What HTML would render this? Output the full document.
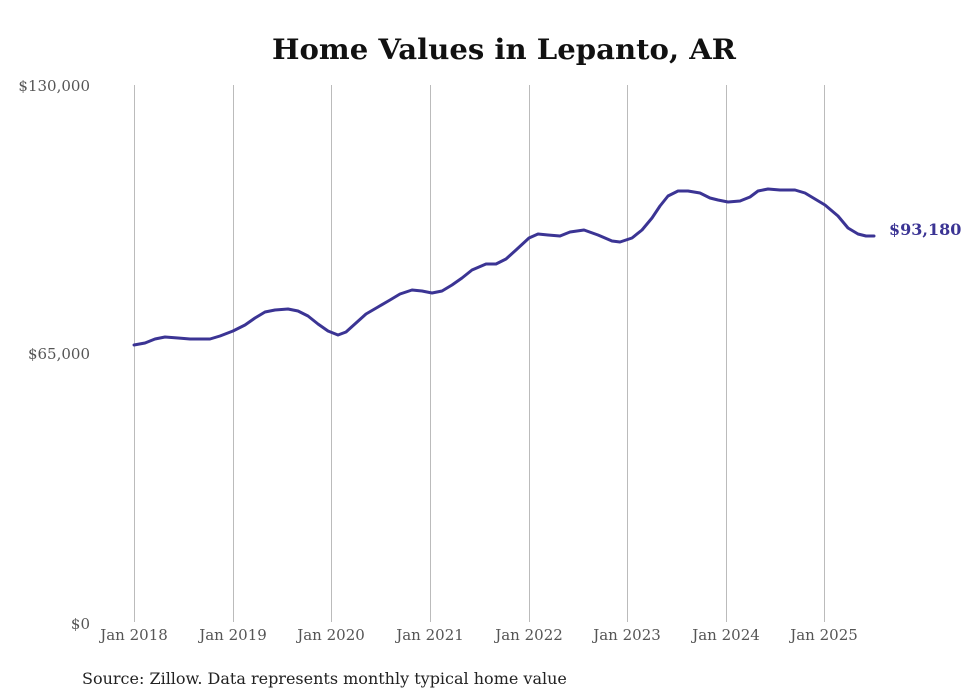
<!DOCTYPE html>
<html><head><meta charset="utf-8"><style>html,body{margin:0;padding:0;background:#fff}svg{display:block}</style></head>
<body>
<svg width="980" height="699" viewBox="0 0 980 699" xmlns="http://www.w3.org/2000/svg">
<rect width="980" height="699" fill="#fff"/>
<text x="504" y="59" text-anchor="middle" font-family="DejaVu Serif, serif" font-weight="bold" font-size="28" fill="#111" textLength="464" lengthAdjust="spacingAndGlyphs">Home Values in Lepanto, AR</text>
<g stroke="#bbb" stroke-width="1">
<line x1="134.5" y1="85" x2="134.5" y2="622"/>
<line x1="233.5" y1="85" x2="233.5" y2="622"/>
<line x1="331.5" y1="85" x2="331.5" y2="622"/>
<line x1="430.5" y1="85" x2="430.5" y2="622"/>
<line x1="529.5" y1="85" x2="529.5" y2="622"/>
<line x1="627.5" y1="85" x2="627.5" y2="622"/>
<line x1="726.5" y1="85" x2="726.5" y2="622"/>
<line x1="824.5" y1="85" x2="824.5" y2="622"/>
</g>
<g font-family="DejaVu Serif, serif" font-size="15" fill="#555">
<text x="90" y="91" text-anchor="end">$130,000</text>
<text x="90" y="359" text-anchor="end">$65,000</text>
<text x="90" y="629" text-anchor="end">$0</text>
<g text-anchor="middle">
<text x="134" y="640">Jan 2018</text>
<text x="233" y="640">Jan 2019</text>
<text x="331" y="640">Jan 2020</text>
<text x="430" y="640">Jan 2021</text>
<text x="529" y="640">Jan 2022</text>
<text x="627" y="640">Jan 2023</text>
<text x="726" y="640">Jan 2024</text>
<text x="824" y="640">Jan 2025</text>
</g>
</g>
<polyline fill="none" stroke="#3b3494" stroke-width="3" stroke-linejoin="round" stroke-linecap="round" points="134,345 145,343 155,339 165,337 178,338 190,339 202,339 210,339 220,336 233,331 245,325 255,318 265,312 275,310 288,309 298,311 308,316 318,324 328,331 338,335 346,332 356,323 366,314 378,307 390,300 400,294 412,290 422,291 432,293 442,291 452,285 462,278 472,270 486,264 496,264 506,259 516,250 529,238 538,234 548,235 560,236 570,232 584,230 598,235 612,241 620,242 632,238 642,230 652,218 660,206 668,196 678,191 688,191 700,193 710,198 718,200 728,202 740,201 750,197 758,191 768,189 780,190 795,190 805,193 815,199 825,205 838,216 848,228 858,234 866,236 874,236"/>
<text x="889" y="235" font-family="DejaVu Serif, serif" font-weight="bold" font-size="16" fill="#3b3494">$93,180</text>
<text x="82" y="684" font-family="DejaVu Serif, serif" font-size="16" fill="#222">Source: Zillow. Data represents monthly typical home value</text>
</svg>
</body></html>
